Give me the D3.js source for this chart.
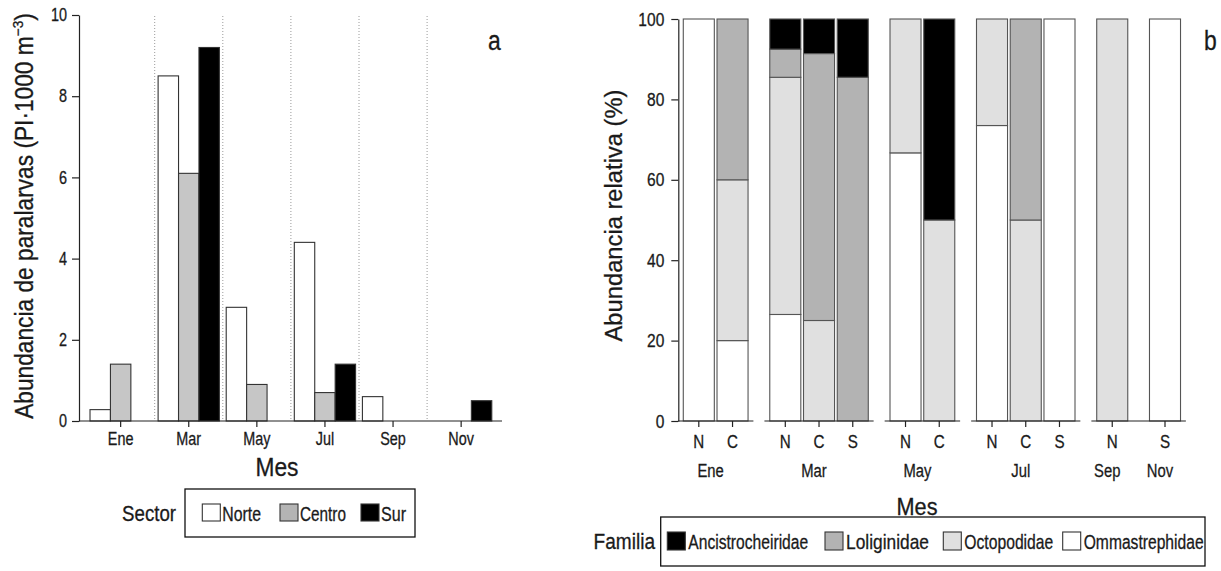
<!DOCTYPE html>
<html><head><meta charset="utf-8">
<script src="https://cdn.jsdelivr.net/npm/d3@7"></script>
<style>
body{margin:0;background:#fff;}
svg text{font-family:'Liberation Sans Narrow','Liberation Sans',Arial,sans-serif;fill:#1a1a1a;stroke:#1a1a1a;stroke-width:0.3px;}
</style></head><body>
<svg id="c" width="1221" height="571"></svg>
<script>
// ---------- Panel a data ----------
const months = ["Ene","Mar","May","Jul","Sep","Nov"];
const sectors = ["Norte","Centro","Sur"];
const norte  = [0.28, 8.5, 2.8, 4.4, 0.6, 0];
const centro = [1.4, 6.1, 0.9, 0.7, 0, 0];
const sur    = [0, 9.2, 0, 1.4, 0, 0.5];
const sectorColors = ["#ffffff","#c6c6c6","#000000"];
const sectorKeyColors = ["#ffffff","#b4b4b4","#000000"];
const yTicksA = [0,2,4,6,8,10];

// ---------- Panel b data ----------
const barMonth  = ["Ene","Ene","Mar","Mar","Mar","May","May","Jul","Jul","Jul","Sep","Nov"];
const barSector = ["N","C","N","C","S","N","C","N","C","S","N","S"];
const ommastrephidae    = [100, 20, 26.5, 0, 0, 66.7, 0, 73.5, 0, 100, 0, 100];
const octopodidae       = [0, 40, 59, 25, 0, 33.3, 50, 26.5, 50, 0, 100, 0];
const loliginidae       = [0, 40, 7, 66.4, 85.5, 0, 0, 0, 50, 0, 0, 0];
const ancistrocheiridae = [0, 0, 7.5, 8.6, 14.5, 0, 50, 0, 0, 0, 0, 0];
const families = ["Ancistrocheiridae","Loliginidae","Octopodidae","Ommastrephidae"];
const familyColors = ["#000000","#b3b3b3","#e0e0e0","#ffffff"];
const yTicksB = [0,20,40,60,80,100];
const axisGroups = [["Ene"],["Mar"],["May"],["Jul"],["Sep","Nov"]];

const svg = d3.select("#c");

// text helper: horizontal condensing by transform (no condensed font installed)
function txt(g, o){
  const t = g.append("text").attr("font-size", o.size).attr("text-anchor", o.anchor || "start");
  if (o.parts) {
    o.parts.forEach(p => { const s = t.append("tspan").text(p.t); if (p.size) s.attr("font-size", p.size); if (p.dy) s.attr("dy", p.dy); });
  } else t.text(o.text);
  const nat = t.node().getComputedTextLength();
  const sx = o.w ? o.w / nat : (o.f || 1);
  t.attr("transform", `translate(${o.x},${o.y})` + (o.rot ? ` rotate(${o.rot})` : "") + ` scale(${sx},1)`);
  return t;
}
function squeezeAxis(sel, f){
  sel.each(function(){
    const s = d3.select(this);
    const x = +s.attr("x") || 0, y = +s.attr("y") || 0;
    s.attr("x", 0).attr("y", 0).attr("transform", `translate(${x},${y}) scale(${f},1)`);
  });
}

// ================= Panel a =================
(function(){
  const g = svg.append("g");
  const x = d3.scaleBand().domain(months).range([86.6, 495.2]);
  const xs = d3.scaleBand().domain(sectors).range([0, x.bandwidth()]).paddingOuter(0.167);
  const y = d3.scaleLinear().domain([0,10]).range([421,15]);
  const series = [norte, centro, sur];

  g.selectAll("line.sep").data(months.slice(1)).enter().append("line")
    .attr("x1", d=>x(d)).attr("x2", d=>x(d)).attr("y1", 16).attr("y2", y(0))
    .attr("stroke","#9a9a9a").attr("stroke-width",1).attr("stroke-dasharray","1,2");

  const rows = [];
  months.forEach((m,i)=>sectors.forEach((s,j)=>{ if(series[j][i]>0) rows.push({m,s,j,v:series[j][i]}); }));
  g.selectAll("rect.bar").data(rows).enter().append("rect")
    .attr("x", d=>x(d.m)+xs(d.s)).attr("width", xs.bandwidth())
    .attr("y", d=>y(d.v)).attr("height", d=>y(0)-y(d.v))
    .attr("fill", d=>sectorColors[d.j]).attr("stroke","#333").attr("stroke-width",1.1);

  const ya = g.append("g").attr("transform","translate(79,0)")
    .call(d3.axisLeft(y).tickValues(yTicksA).tickSize(7).tickSizeOuter(0).tickPadding(5));
  ya.select(".domain").attr("stroke","#222").attr("stroke-width",1.2);
  ya.selectAll(".tick line").attr("stroke","#222").attr("stroke-width",1.2);
  ya.selectAll("text").attr("font-size",18).attr("fill","#1a1a1a").call(squeezeAxis,0.8);

  g.append("line").attr("x1",79).attr("x2",502).attr("y1",y(0)).attr("y2",y(0)).attr("stroke","#222").attr("stroke-width",1.2);
  const xa = g.append("g").attr("transform",`translate(0,${y(0)})`)
    .call(d3.axisBottom(x).tickSize(6).tickSizeOuter(0).tickPadding(5));
  xa.select(".domain").remove();
  xa.selectAll(".tick line").attr("stroke","#222").attr("stroke-width",1.2);
  xa.selectAll("text").attr("font-size",18).attr("fill","#1a1a1a").call(squeezeAxis,0.8);

  txt(g, {x:33, y:216, rot:-90, anchor:"middle", size:25, w:406,
    parts:[{t:"Abundancia de paralarvas (PI·1000 m"},{t:"−3", size:15, dy:-10},{t:")", dy:10}]});
  txt(g, {x:277, y:476, anchor:"middle", size:25, text:"Mes", w:43});
  txt(g, {x:488, y:50, size:27, text:"a", f:0.85});

  g.append("rect").attr("x",185).attr("y",489).attr("width",230).attr("height",48)
    .attr("fill","none").attr("stroke","#111").attr("stroke-width",1.3);
  txt(g, {x:176, y:521, anchor:"end", size:22, text:"Sector", w:54});
  const keyX = [202.3, 280, 361];
  const labW = [38.7, 46, 25];
  sectors.forEach((s,j)=>{
    g.append("rect").attr("x",keyX[j]).attr("y",504).attr("width",18).attr("height",17)
      .attr("fill", sectorKeyColors[j]).attr("stroke","#333").attr("stroke-width",1.1);
    txt(g, {x:keyX[j]+20, y:521, size:20, text:s, w:labW[j]});
  });
})();

// ================= Panel b =================
(function(){
  const g = svg.append("g");
  const gapRatio = 0.564;
  const slots = barMonth.map((m,i)=> i + gapRatio*months.indexOf(m));
  const lastSlot = slots[slots.length-1];
  const x = d3.scaleLinear().domain([0, lastSlot]).range([698.8, 1165]);
  const step = x(1)-x(0);
  const bw = step*0.92;
  const y = d3.scaleLinear().domain([0,100]).range([421,19]);

  const rows = barMonth.map((m,i)=>({i, slot:slots[i], Ommastrephidae:ommastrephidae[i], Octopodidae:octopodidae[i], Loliginidae:loliginidae[i], Ancistrocheiridae:ancistrocheiridae[i]}));
  const stackKeys = families.slice().reverse();
  const stacked = d3.stack().keys(stackKeys)(rows);
  stacked.forEach(layer=>{
    const col = familyColors[families.indexOf(layer.key)];
    g.selectAll(null).data(layer.filter(d=>d[1]-d[0]>0)).enter().append("rect")
      .attr("x", d=>x(d.data.slot)-bw/2).attr("width", bw)
      .attr("y", d=>y(d[1])).attr("height", d=>y(d[0])-y(d[1]))
      .attr("fill", col).attr("stroke","#555").attr("stroke-width",1.1);
  });

  const ya = g.append("g").attr("transform","translate(678.3,0)")
    .call(d3.axisLeft(y).tickValues(yTicksB).tickSize(7).tickSizeOuter(0).tickPadding(7));
  ya.select(".domain").attr("stroke","#222").attr("stroke-width",1.2);
  ya.selectAll(".tick line").attr("stroke","#222").attr("stroke-width",1.2);
  ya.selectAll("text").attr("font-size",19).attr("fill","#1a1a1a").call(squeezeAxis,0.82);

  axisGroups.forEach(grp=>{
    const idx = barMonth.map((m,i)=>grp.includes(m)?i:-1).filter(i=>i>=0);
    const x1 = x(slots[idx[0]]) - step/2 - 4, x2 = x(slots[idx[idx.length-1]]) + step/2 + 4;
    g.append("line").attr("x1",x1).attr("x2",x2).attr("y1",y(0)).attr("y2",y(0)).attr("stroke","#222").attr("stroke-width",1.2);
  });
  barSector.forEach((s,i)=>{
    g.append("line").attr("x1",x(slots[i])).attr("x2",x(slots[i])).attr("y1",y(0)).attr("y2",y(0)+6).attr("stroke","#222").attr("stroke-width",1.2);
    txt(g, {x:x(slots[i]), y:448, anchor:"middle", size:19, text:s, f:0.8});
  });
  months.forEach(m=>{
    const idx = barMonth.map((d,i)=>d===m?i:-1).filter(i=>i>=0);
    const cx = (x(slots[idx[0]]) + x(slots[idx[idx.length-1]]))/2 - 5;
    txt(g, {x:cx, y:477, anchor:"middle", size:19, text:m, f:0.78});
  });

  txt(g, {x:622, y:215.5, rot:-90, anchor:"middle", size:24, text:"Abundancia relativa (%)", w:252});
  txt(g, {x:917, y:515, anchor:"middle", size:24, text:"Mes", w:41});
  txt(g, {x:1204, y:50, size:27, text:"b", f:0.85});

  g.append("rect").attr("x",660.7).attr("y",517).attr("width",544.3).attr("height",49)
    .attr("fill","none").attr("stroke","#111").attr("stroke-width",1.3);
  txt(g, {x:655, y:549, anchor:"end", size:22, text:"Familia", w:61.5});
  const keyX = [667.3, 825, 943.3, 1062.7];
  const labW = [120, 83, 89, 120];
  families.forEach((f,j)=>{
    g.append("rect").attr("x",keyX[j]).attr("y",532).attr("width",18).attr("height",18)
      .attr("fill", familyColors[j]).attr("stroke","#333").attr("stroke-width",1.1);
    txt(g, {x:keyX[j]+21, y:549, size:20, text:f, w:labW[j]});
  });
})();
</script>
</body></html>
